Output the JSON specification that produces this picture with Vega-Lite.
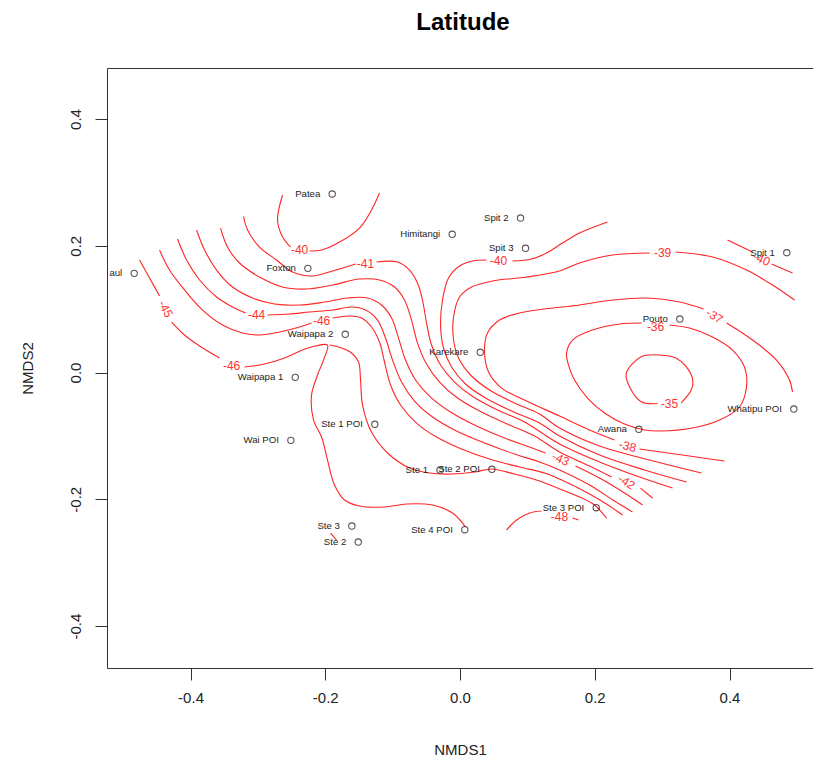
{
"$schema": "https://vega.github.io/schema/vega-lite/v6.json",
"width": 706, "height": 600,
"autosize": {"type": "none"},
"padding": {"left": 107, "top": 68, "right": 0, "bottom": 97},
"background": "white",
"title": {"text": "Latitude", "font": "Liberation Sans", "fontSize": 24, "fontWeight": "bold", "color": "#000", "anchor": "middle", "baseline": "alphabetic", "offset": 14, "dx": 3},
"config": {"view": {"stroke": null}, "font": "Liberation Sans"},
"datasets": {
"sites": [
{"site":"Patea","x":-0.1897,"y":0.2817},
{"site":"Foxton","x":-0.2259,"y":0.1644},
{"site":"aul","x":-0.4836,"y":0.1565},
{"site":"Waipapa 2","x":-0.1704,"y":0.0603},
{"site":"Waipapa 1","x":-0.2446,"y":-0.0076},
{"site":"Spit 2","x":0.0898,"y":0.2438},
{"site":"Himitangi","x":-0.0116,"y":0.2181},
{"site":"Spit 3","x":0.0972,"y":0.1960},
{"site":"Karekare","x":0.0300,"y":0.0319},
{"site":"Spit 1","x":0.4850,"y":0.1890},
{"site":"Pouto","x":0.3262,"y":0.0844},
{"site":"Whatipu POI","x":0.4954,"y":-0.0576},
{"site":"Awana","x":0.2654,"y":-0.0896},
{"site":"Ste 1 POI","x":-0.1265,"y":-0.0817},
{"site":"Wai POI","x":-0.2511,"y":-0.1070},
{"site":"Ste 1","x":-0.0297,"y":-0.1538},
{"site":"Ste 2 POI","x":0.0472,"y":-0.1527},
{"site":"Ste 3","x":-0.1606,"y":-0.2422},
{"site":"Ste 2","x":-0.1511,"y":-0.2675},
{"site":"Ste 4 POI","x":0.0071,"y":-0.2480},
{"site":"Ste 3 POI","x":0.2022,"y":-0.2133}
],
"clabels": [
{"id":1,"t":"-40","x":-0.2382,"y":0.1933},
{"id":2,"t":"-41","x":-0.1403,"y":0.1712},
{"id":3,"t":"-44","x":-0.3020,"y":0.0907},
{"id":4,"t":"-46","x":-0.2055,"y":0.0813},
{"id":5,"t":"-45","x":-0.4371,"y":0.1002},
{"id":6,"t":"-46","x":-0.3391,"y":0.0103},
{"id":7,"t":"-40","x":0.0571,"y":0.1759},
{"id":8,"t":"-39","x":0.3006,"y":0.1886},
{"id":9,"t":"-36","x":0.2902,"y":0.0718},
{"id":10,"t":"-37","x":0.3777,"y":0.0892},
{"id":11,"t":"-35","x":0.3109,"y":-0.0497},
{"id":12,"t":"-40","x":0.4475,"y":0.1791},
{"id":13,"t":"-38","x":0.2486,"y":-0.1160},
{"id":14,"t":"-43","x":0.1492,"y":-0.1365},
{"id":15,"t":"-42","x":0.2471,"y":-0.1728},
{"id":16,"t":"-48","x":0.1477,"y":-0.2280}
],
"contours": [
{"seg":"P40a","i":0,"x":-0.2634,"y":0.2801},{"seg":"P40a","i":1,"x":-0.2709,"y":0.2406},{"seg":"P40a","i":2,"x":-0.2634,"y":0.2138},{"seg":"P40a","i":3,"x":-0.2516,"y":0.1980},
{"seg":"P40b","i":0,"x":-0.2234,"y":0.1917},{"seg":"P40b","i":1,"x":-0.2055,"y":0.1933},{"seg":"P40b","i":2,"x":-0.1788,"y":0.2059},{"seg":"P40b","i":3,"x":-0.1492,"y":0.2280},{"seg":"P40b","i":4,"x":-0.1314,"y":0.2564},{"seg":"P40b","i":5,"x":-0.1195,"y":0.2832},
{"seg":"W41a","i":0,"x":-0.3213,"y":0.2462},{"seg":"W41a","i":1,"x":-0.3154,"y":0.2249},{"seg":"W41a","i":2,"x":-0.2976,"y":0.1980},{"seg":"W41a","i":3,"x":-0.2724,"y":0.1775},{"seg":"W41a","i":4,"x":-0.2486,"y":0.1586},{"seg":"W41a","i":5,"x":-0.2189,"y":0.1523},{"seg":"W41a","i":6,"x":-0.1892,"y":0.1602},{"seg":"W41a","i":7,"x":-0.1551,"y":0.1712},
{"seg":"W41b","i":0,"x":-0.1239,"y":0.1744},{"seg":"W41b","i":1,"x":-0.0928,"y":0.1744},{"seg":"W41b","i":2,"x":-0.0750,"y":0.1617},{"seg":"W41b","i":3,"x":-0.0631,"y":0.1412},{"seg":"W41b","i":4,"x":-0.0557,"y":0.1144},{"seg":"W41b","i":5,"x":-0.0497,"y":0.0781},{"seg":"W41b","i":6,"x":-0.0423,"y":0.0434},{"seg":"W41b","i":7,"x":-0.0289,"y":0.0118},{"seg":"W41b","i":8,"x":-0.0082,"y":-0.0150},{"seg":"W41b","i":9,"x":0.0200,"y":-0.0387},{"seg":"W41b","i":10,"x":0.0557,"y":-0.0592},{"seg":"W41b","i":11,"x":0.0957,"y":-0.0781},{"seg":"W41b","i":12,"x":0.1477,"y":-0.1128},{"seg":"W41b","i":13,"x":0.2070,"y":-0.1412},{"seg":"W41b","i":14,"x":0.2664,"y":-0.1649},{"seg":"W41b","i":15,"x":0.3154,"y":-0.1823},
{"seg":"W42a","i":0,"x":-0.3555,"y":0.2280},{"seg":"W42a","i":1,"x":-0.3451,"y":0.1981},{"seg":"W42a","i":2,"x":-0.3273,"y":0.1728},{"seg":"W42a","i":3,"x":-0.2976,"y":0.1507},{"seg":"W42a","i":4,"x":-0.2634,"y":0.1349},{"seg":"W42a","i":5,"x":-0.2278,"y":0.1318},{"seg":"W42a","i":6,"x":-0.1892,"y":0.1381},{"seg":"W42a","i":7,"x":-0.1492,"y":0.1475},{"seg":"W42a","i":8,"x":-0.1195,"y":0.1460},{"seg":"W42a","i":9,"x":-0.0972,"y":0.1349},{"seg":"W42a","i":10,"x":-0.0824,"y":0.1144},{"seg":"W42a","i":11,"x":-0.0720,"y":0.0828},{"seg":"W42a","i":12,"x":-0.0631,"y":0.0465},{"seg":"W42a","i":13,"x":-0.0497,"y":0.0134},{"seg":"W42a","i":14,"x":-0.0304,"y":-0.0150},{"seg":"W42a","i":15,"x":-0.0037,"y":-0.0402},{"seg":"W42a","i":16,"x":0.0319,"y":-0.0623},{"seg":"W42a","i":17,"x":0.0735,"y":-0.0828},{"seg":"W42a","i":18,"x":0.1106,"y":-0.1002},{"seg":"W42a","i":19,"x":0.1477,"y":-0.1254},{"seg":"W42a","i":20,"x":0.1922,"y":-0.1475},{"seg":"W42a","i":21,"x":0.2249,"y":-0.1649},
{"seg":"W42b","i":0,"x":0.2679,"y":-0.1823},{"seg":"W42b","i":1,"x":0.2857,"y":-0.1980},
{"seg":"W43a","i":0,"x":-0.3911,"y":0.2249},{"seg":"W43a","i":1,"x":-0.3792,"y":0.1933},{"seg":"W43a","i":2,"x":-0.3614,"y":0.1617},{"seg":"W43a","i":3,"x":-0.3377,"y":0.1349},{"seg":"W43a","i":4,"x":-0.3080,"y":0.1176},{"seg":"W43a","i":5,"x":-0.2753,"y":0.1081},{"seg":"W43a","i":6,"x":-0.2382,"y":0.1065},{"seg":"W43a","i":7,"x":-0.2011,"y":0.1112},{"seg":"W43a","i":8,"x":-0.1670,"y":0.1176},{"seg":"W43a","i":9,"x":-0.1373,"y":0.1176},{"seg":"W43a","i":10,"x":-0.1165,"y":0.1065},{"seg":"W43a","i":11,"x":-0.1016,"y":0.0860},{"seg":"W43a","i":12,"x":-0.0913,"y":0.0544},{"seg":"W43a","i":13,"x":-0.0809,"y":0.0197},{"seg":"W43a","i":14,"x":-0.0660,"y":-0.0118},{"seg":"W43a","i":15,"x":-0.0438,"y":-0.0387},{"seg":"W43a","i":16,"x":-0.0141,"y":-0.0623},{"seg":"W43a","i":17,"x":0.0245,"y":-0.0844},{"seg":"W43a","i":18,"x":0.0660,"y":-0.1033},{"seg":"W43a","i":19,"x":0.1032,"y":-0.1176},{"seg":"W43a","i":20,"x":0.1269,"y":-0.1270},
{"seg":"W43b","i":0,"x":0.1714,"y":-0.1475},{"seg":"W43b","i":1,"x":0.2070,"y":-0.1665},{"seg":"W43b","i":2,"x":0.2441,"y":-0.1901},{"seg":"W43b","i":3,"x":0.2709,"y":-0.2091},
{"seg":"W44a","i":0,"x":-0.4193,"y":0.2107},{"seg":"W44a","i":1,"x":-0.4059,"y":0.1775},{"seg":"W44a","i":2,"x":-0.3866,"y":0.1460},{"seg":"W44a","i":3,"x":-0.3614,"y":0.1191},{"seg":"W44a","i":4,"x":-0.3377,"y":0.1033},{"seg":"W44a","i":5,"x":-0.3184,"y":0.0939},
{"seg":"W44b","i":0,"x":-0.2857,"y":0.0907},{"seg":"W44b","i":1,"x":-0.2531,"y":0.0923},{"seg":"W44b","i":2,"x":-0.2234,"y":0.0955},{"seg":"W44b","i":3,"x":-0.1892,"y":0.0986},{"seg":"W44b","i":4,"x":-0.1610,"y":0.1033},{"seg":"W44b","i":5,"x":-0.1403,"y":0.0986},{"seg":"W44b","i":6,"x":-0.1225,"y":0.0828},{"seg":"W44b","i":7,"x":-0.1106,"y":0.0544},{"seg":"W44b","i":8,"x":-0.1002,"y":0.0197},{"seg":"W44b","i":9,"x":-0.0868,"y":-0.0150},{"seg":"W44b","i":10,"x":-0.0675,"y":-0.0450},{"seg":"W44b","i":11,"x":-0.0408,"y":-0.0702},{"seg":"W44b","i":12,"x":-0.0052,"y":-0.0923},{"seg":"W44b","i":13,"x":0.0364,"y":-0.1112},{"seg":"W44b","i":14,"x":0.0809,"y":-0.1286},{"seg":"W44b","i":15,"x":0.1180,"y":-0.1412},{"seg":"W44b","i":16,"x":0.1477,"y":-0.1538},{"seg":"W44b","i":17,"x":0.1922,"y":-0.1775},{"seg":"W44b","i":18,"x":0.2293,"y":-0.2028},{"seg":"W44b","i":19,"x":0.2560,"y":-0.2201},
{"seg":"W45a","i":0,"x":-0.4460,"y":0.1933},{"seg":"W45a","i":1,"x":-0.4312,"y":0.1617},{"seg":"W45a","i":2,"x":-0.4089,"y":0.1302},{"seg":"W45a","i":3,"x":-0.3822,"y":0.0986},{"seg":"W45a","i":4,"x":-0.3525,"y":0.0750},{"seg":"W45a","i":5,"x":-0.3228,"y":0.0623},{"seg":"W45a","i":6,"x":-0.2976,"y":0.0592},{"seg":"W45a","i":7,"x":-0.2679,"y":0.0639},{"seg":"W45a","i":8,"x":-0.2382,"y":0.0718},{"seg":"W45a","i":9,"x":-0.2204,"y":0.0781},
{"seg":"W45b","i":0,"x":-0.1892,"y":0.0860},{"seg":"W45b","i":1,"x":-0.1640,"y":0.0892},{"seg":"W45b","i":2,"x":-0.1462,"y":0.0860},{"seg":"W45b","i":3,"x":-0.1314,"y":0.0718},{"seg":"W45b","i":4,"x":-0.1195,"y":0.0481},{"seg":"W45b","i":5,"x":-0.1121,"y":0.0166},{"seg":"W45b","i":6,"x":-0.1031,"y":-0.0197},{"seg":"W45b","i":7,"x":-0.0883,"y":-0.0513},{"seg":"W45b","i":8,"x":-0.0646,"y":-0.0797},{"seg":"W45b","i":9,"x":-0.0349,"y":-0.1018},{"seg":"W45b","i":10,"x":0.0022,"y":-0.1207},{"seg":"W45b","i":11,"x":0.0438,"y":-0.1365},{"seg":"W45b","i":12,"x":0.0883,"y":-0.1491},{"seg":"W45b","i":13,"x":0.1254,"y":-0.1586},{"seg":"W45b","i":14,"x":0.1477,"y":-0.1681},{"seg":"W45b","i":15,"x":0.1922,"y":-0.1917},{"seg":"W45b","i":16,"x":0.2219,"y":-0.2107},{"seg":"W45b","i":17,"x":0.2412,"y":-0.2249},
{"seg":"W46a","i":0,"x":-0.4757,"y":0.1775},{"seg":"W46a","i":1,"x":-0.4608,"y":0.1491},{"seg":"W46a","i":2,"x":-0.4460,"y":0.1207},
{"seg":"W46b","i":0,"x":-0.4282,"y":0.0797},{"seg":"W46b","i":1,"x":-0.4089,"y":0.0592},{"seg":"W46b","i":2,"x":-0.3866,"y":0.0418},{"seg":"W46b","i":3,"x":-0.3569,"y":0.0229},
{"seg":"W46c","i":0,"x":-0.3199,"y":0.0087},{"seg":"W46c","i":1,"x":-0.2902,"y":0.0134},{"seg":"W46c","i":2,"x":-0.2605,"y":0.0229},{"seg":"W46c","i":3,"x":-0.2338,"y":0.0355},{"seg":"W46c","i":4,"x":-0.2145,"y":0.0418},{"seg":"W46c","i":5,"x":-0.1967,"y":0.0434},{"seg":"W46c","i":6,"x":-0.2026,"y":0.0197},{"seg":"W46c","i":7,"x":-0.2115,"y":-0.0039},{"seg":"W46c","i":8,"x":-0.2204,"y":-0.0355},{"seg":"W46c","i":9,"x":-0.2174,"y":-0.0750},{"seg":"W46c","i":10,"x":-0.2055,"y":-0.1018},{"seg":"W46c","i":11,"x":-0.1967,"y":-0.1381},{"seg":"W46c","i":12,"x":-0.1863,"y":-0.1775},{"seg":"W46c","i":13,"x":-0.1715,"y":-0.2012},{"seg":"W46c","i":14,"x":-0.1492,"y":-0.2107},{"seg":"W46c","i":15,"x":-0.1121,"y":-0.2122},{"seg":"W46c","i":16,"x":-0.0794,"y":-0.2075},{"seg":"W46c","i":17,"x":-0.0408,"y":-0.2091},{"seg":"W46c","i":18,"x":-0.0111,"y":-0.2217},{"seg":"W46c","i":19,"x":0.0082,"y":-0.2438},
{"seg":"H","i":0,"x":-0.1937,"y":0.0434},{"seg":"H","i":1,"x":-0.1759,"y":0.0387},{"seg":"H","i":2,"x":-0.1610,"y":0.0308},{"seg":"H","i":3,"x":-0.1506,"y":0.0166},{"seg":"H","i":4,"x":-0.1477,"y":-0.0118},{"seg":"H","i":5,"x":-0.1447,"y":-0.0513},{"seg":"H","i":6,"x":-0.1314,"y":-0.0939},{"seg":"H","i":7,"x":-0.1076,"y":-0.1270},{"seg":"H","i":8,"x":-0.0750,"y":-0.1507},{"seg":"H","i":9,"x":-0.0453,"y":-0.1586},{"seg":"H","i":10,"x":-0.0126,"y":-0.1602},{"seg":"H","i":11,"x":0.0215,"y":-0.1570},{"seg":"H","i":12,"x":0.0468,"y":-0.1523},{"seg":"H","i":13,"x":0.0809,"y":-0.1602},{"seg":"H","i":14,"x":0.1180,"y":-0.1712},{"seg":"H","i":15,"x":0.1477,"y":-0.1838},{"seg":"H","i":16,"x":0.1774,"y":-0.1965},{"seg":"H","i":17,"x":0.1996,"y":-0.2091},{"seg":"H","i":18,"x":0.2174,"y":-0.2296},
{"seg":"E40a","i":0,"x":0.2189,"y":0.2375},{"seg":"E40a","i":1,"x":0.1774,"y":0.2201},{"seg":"E40a","i":2,"x":0.1521,"y":0.2043},{"seg":"E40a","i":3,"x":0.1284,"y":0.1886},{"seg":"E40a","i":4,"x":0.1061,"y":0.1791},{"seg":"E40a","i":5,"x":0.0779,"y":0.1759},
{"seg":"E40b","i":0,"x":0.0393,"y":0.1775},{"seg":"E40b","i":1,"x":0.0186,"y":0.1759},{"seg":"E40b","i":2,"x":-0.0007,"y":0.1681},{"seg":"E40b","i":3,"x":-0.0171,"y":0.1491},{"seg":"E40b","i":4,"x":-0.0260,"y":0.1144},{"seg":"E40b","i":5,"x":-0.0289,"y":0.0750},{"seg":"E40b","i":6,"x":-0.0245,"y":0.0387},{"seg":"E40b","i":7,"x":-0.0126,"y":0.0087},{"seg":"E40b","i":8,"x":0.0082,"y":-0.0181},{"seg":"E40b","i":9,"x":0.0378,"y":-0.0402},{"seg":"E40b","i":10,"x":0.0764,"y":-0.0607},{"seg":"E40b","i":11,"x":0.1180,"y":-0.0797},{"seg":"E40b","i":12,"x":0.1477,"y":-0.1002},{"seg":"E40b","i":13,"x":0.2070,"y":-0.1302},{"seg":"E40b","i":14,"x":0.2738,"y":-0.1538},{"seg":"E40b","i":15,"x":0.3362,"y":-0.1728},
{"seg":"E39a","i":0,"x":0.4965,"y":0.1144},{"seg":"E39a","i":1,"x":0.4638,"y":0.1381},{"seg":"E39a","i":2,"x":0.4252,"y":0.1617},{"seg":"E39a","i":3,"x":0.3748,"y":0.1823},{"seg":"E39a","i":4,"x":0.3199,"y":0.1901},
{"seg":"E39b","i":0,"x":0.2813,"y":0.1886},{"seg":"E39b","i":1,"x":0.2263,"y":0.1854},{"seg":"E39b","i":2,"x":0.1774,"y":0.1728},{"seg":"E39b","i":3,"x":0.1477,"y":0.1602},{"seg":"E39b","i":4,"x":0.0987,"y":0.1507},{"seg":"E39b","i":5,"x":0.0482,"y":0.1444},{"seg":"E39b","i":6,"x":0.0171,"y":0.1349},{"seg":"E39b","i":7,"x":-0.0007,"y":0.1191},{"seg":"E39b","i":8,"x":-0.0096,"y":0.0876},{"seg":"E39b","i":9,"x":-0.0096,"y":0.0513},{"seg":"E39b","i":10,"x":-0.0022,"y":0.0229},{"seg":"E39b","i":11,"x":0.0156,"y":-0.0039},{"seg":"E39b","i":12,"x":0.0438,"y":-0.0276},{"seg":"E39b","i":13,"x":0.0809,"y":-0.0481},{"seg":"E39b","i":14,"x":0.1180,"y":-0.0655},{"seg":"E39b","i":15,"x":0.1477,"y":-0.0876},{"seg":"E39b","i":16,"x":0.2070,"y":-0.1160},{"seg":"E39b","i":17,"x":0.2813,"y":-0.1381},{"seg":"E39b","i":18,"x":0.3584,"y":-0.1586},
{"seg":"E37a","i":0,"x":0.4935,"y":-0.0308},{"seg":"E37a","i":1,"x":0.4890,"y":-0.0118},{"seg":"E37a","i":2,"x":0.4697,"y":0.0197},{"seg":"E37a","i":3,"x":0.4341,"y":0.0513},{"seg":"E37a","i":4,"x":0.3956,"y":0.0781},
{"seg":"E37b","i":0,"x":0.3614,"y":0.1002},{"seg":"E37b","i":1,"x":0.3258,"y":0.1112},{"seg":"E37b","i":2,"x":0.2768,"y":0.1176},{"seg":"E37b","i":3,"x":0.2263,"y":0.1144},{"seg":"E37b","i":4,"x":0.1774,"y":0.1065},{"seg":"E37b","i":5,"x":0.1254,"y":0.1002},{"seg":"E37b","i":6,"x":0.0883,"y":0.0939},{"seg":"E37b","i":7,"x":0.0586,"y":0.0828},{"seg":"E37b","i":8,"x":0.0408,"y":0.0623},{"seg":"E37b","i":9,"x":0.0364,"y":0.0323},{"seg":"E37b","i":10,"x":0.0423,"y":0.0008},{"seg":"E37b","i":11,"x":0.0616,"y":-0.0245},{"seg":"E37b","i":12,"x":0.0987,"y":-0.0450},{"seg":"E37b","i":13,"x":0.1477,"y":-0.0686},{"seg":"E37b","i":14,"x":0.1922,"y":-0.0907},{"seg":"E37b","i":15,"x":0.2293,"y":-0.1065},
{"seg":"E37c","i":0,"x":0.2664,"y":-0.1207},{"seg":"E37c","i":1,"x":0.3406,"y":-0.1318},{"seg":"E37c","i":2,"x":0.3926,"y":-0.1396},
{"seg":"E36","i":0,"x":0.3109,"y":0.0750},{"seg":"E36","i":1,"x":0.3406,"y":0.0702},{"seg":"E36","i":2,"x":0.3748,"y":0.0560},{"seg":"E36","i":3,"x":0.4044,"y":0.0355},{"seg":"E36","i":4,"x":0.4222,"y":0.0087},{"seg":"E36","i":5,"x":0.4252,"y":-0.0229},{"seg":"E36","i":6,"x":0.4148,"y":-0.0544},{"seg":"E36","i":7,"x":0.3852,"y":-0.0750},{"seg":"E36","i":8,"x":0.3451,"y":-0.0876},{"seg":"E36","i":9,"x":0.2961,"y":-0.0923},{"seg":"E36","i":10,"x":0.2738,"y":-0.0907},{"seg":"E36","i":11,"x":0.2441,"y":-0.0813},{"seg":"E36","i":12,"x":0.2145,"y":-0.0639},{"seg":"E36","i":13,"x":0.1892,"y":-0.0402},{"seg":"E36","i":14,"x":0.1699,"y":-0.0118},{"seg":"E36","i":15,"x":0.1610,"y":0.0118},{"seg":"E36","i":16,"x":0.1581,"y":0.0308},{"seg":"E36","i":17,"x":0.1670,"y":0.0513},{"seg":"E36","i":18,"x":0.1967,"y":0.0671},{"seg":"E36","i":19,"x":0.2367,"y":0.0765},{"seg":"E36","i":20,"x":0.2694,"y":0.0781},
{"seg":"E35","i":0,"x":0.3283,"y":-0.0477},{"seg":"E35","i":1,"x":0.3432,"y":-0.0276},{"seg":"E35","i":2,"x":0.3455,"y":-0.0118},{"seg":"E35","i":3,"x":0.3357,"y":0.0092},{"seg":"E35","i":4,"x":0.3209,"y":0.0224},{"seg":"E35","i":5,"x":0.2961,"y":0.0276},{"seg":"E35","i":6,"x":0.2689,"y":0.0249},{"seg":"E35","i":7,"x":0.2467,"y":-0.0013},{"seg":"E35","i":8,"x":0.2516,"y":-0.0224},{"seg":"E35","i":9,"x":0.2689,"y":-0.0461},{"seg":"E35","i":10,"x":0.2931,"y":-0.0489},
{"seg":"S40a","i":0,"x":0.3970,"y":0.2091},{"seg":"S40a","i":1,"x":0.4341,"y":0.1901},
{"seg":"S40b","i":0,"x":0.4623,"y":0.1712},{"seg":"S40b","i":1,"x":0.4935,"y":0.1570},
{"seg":"B48a","i":0,"x":0.0690,"y":-0.2485},{"seg":"B48a","i":1,"x":0.0839,"y":-0.2327},{"seg":"B48a","i":2,"x":0.1032,"y":-0.2217},{"seg":"B48a","i":3,"x":0.1210,"y":-0.2185},
{"seg":"B48b","i":0,"x":0.1670,"y":-0.2296},{"seg":"B48b","i":1,"x":0.1759,"y":-0.2327},
{"seg":"D","i":0,"x":-0.1922,"y":-0.2533},{"seg":"D","i":1,"x":-0.1833,"y":-0.2643}
]
},
"resolve": {"axis": {"x": "independent"}},
"layer": [
{
"data": {"name": "contours"},
"mark": {"type": "line", "color": "#ff2424", "strokeWidth": 1.1, "interpolate": "catmull-rom"},
"encoding": {
"x": {"field": "x", "type": "quantitative", "scale": {"domain": [-0.524, 0.5239], "nice": false, "zero": false},
 "axis": {"orient": "bottom", "values": [-0.4, -0.2, 0, 0.2, 0.4], "labelExpr": "datum.value < 0 ? '-' + format(-datum.value, '.1f') : format(datum.value, '.1f')", "grid": false, "tickSize": 12, "tickColor": "#333", "domainColor": "#333", "labelFontSize": 15, "labelFont": "Liberation Sans", "labelColor": "#222", "labelPadding": 10, "title": "NMDS1", "titleFont": "Liberation Sans", "titleFontSize": 15, "titleFontWeight": "normal", "titleColor": "#222", "titlePadding": 37}},
"y": {"field": "y", "type": "quantitative", "scale": {"domain": [-0.4662, 0.4805], "nice": false, "zero": false},
 "axis": {"orient": "left", "values": [-0.4, -0.2, 0, 0.2, 0.4], "labelExpr": "datum.value < 0 ? '-' + format(-datum.value, '.1f') : format(datum.value, '.1f')", "grid": false, "tickSize": 12, "tickColor": "#333", "domainColor": "#333", "labelFontSize": 15, "labelFont": "Liberation Sans", "labelColor": "#222", "labelAngle": 270, "labelAlign": "center", "labelBaseline": "bottom", "labelPadding": 12, "title": "NMDS2", "titleFont": "Liberation Sans", "titleFontSize": 15, "titleFontWeight": "normal", "titleColor": "#222", "titlePadding": 33}},
"detail": {"field": "seg", "type": "nominal"},
"order": {"field": "i", "type": "quantitative"}
}
},
{
"data": {"name": "clabels"},
"transform": [{"filter": {"field": "id", "oneOf": [1,2,3,4,6,7,8,9,11,16]}}],
"mark": {"type": "text", "color": "#ff3030", "fontSize": 12, "font": "Liberation Sans", "align": "center", "baseline": "middle"},
"encoding": {"x": {"field": "x", "type": "quantitative", "axis": null}, "y": {"field": "y", "type": "quantitative"}, "text": {"field": "t"}}
},
{
"data": {"name": "clabels"},
"transform": [{"filter": {"field": "id", "oneOf": [5]}}],
"mark": {"type": "text", "color": "#ff3030", "fontSize": 12, "font": "Liberation Sans", "align": "center", "baseline": "middle", "angle": 63},
"encoding": {"x": {"field": "x", "type": "quantitative", "axis": null}, "y": {"field": "y", "type": "quantitative"}, "text": {"field": "t"}}
},
{
"data": {"name": "clabels"},
"transform": [{"filter": {"field": "id", "oneOf": [10, 15]}}],
"mark": {"type": "text", "color": "#ff3030", "fontSize": 12, "font": "Liberation Sans", "align": "center", "baseline": "middle", "angle": 32},
"encoding": {"x": {"field": "x", "type": "quantitative", "axis": null}, "y": {"field": "y", "type": "quantitative"}, "text": {"field": "t"}}
},
{
"data": {"name": "clabels"},
"transform": [{"filter": {"field": "id", "oneOf": [12, 14]}}],
"mark": {"type": "text", "color": "#ff3030", "fontSize": 12, "font": "Liberation Sans", "align": "center", "baseline": "middle", "angle": 25},
"encoding": {"x": {"field": "x", "type": "quantitative", "axis": null}, "y": {"field": "y", "type": "quantitative"}, "text": {"field": "t"}}
},
{
"data": {"name": "clabels"},
"transform": [{"filter": {"field": "id", "oneOf": [13]}}],
"mark": {"type": "text", "color": "#ff3030", "fontSize": 12, "font": "Liberation Sans", "align": "center", "baseline": "middle", "angle": 15},
"encoding": {"x": {"field": "x", "type": "quantitative", "axis": null}, "y": {"field": "y", "type": "quantitative"}, "text": {"field": "t"}}
},
{
"data": {"name": "sites"},
"mark": {"type": "point", "shape": "circle", "filled": false, "color": "#111", "size": 40, "strokeWidth": 1.1},
"encoding": {
"x": {"field": "x", "type": "quantitative", "axis": {"orient": "top", "ticks": false, "labels": false, "title": null, "grid": false, "domainColor": "#333"}},
"y": {"field": "y", "type": "quantitative"}
}
},
{
"data": {"name": "sites"},
"mark": {"type": "text", "align": "right", "baseline": "middle", "dx": -12, "fontSize": 9.6, "font": "Liberation Sans", "color": "#222"},
"encoding": {"x": {"field": "x", "type": "quantitative", "axis": null}, "y": {"field": "y", "type": "quantitative"}, "text": {"field": "site"}}
}
]
}
